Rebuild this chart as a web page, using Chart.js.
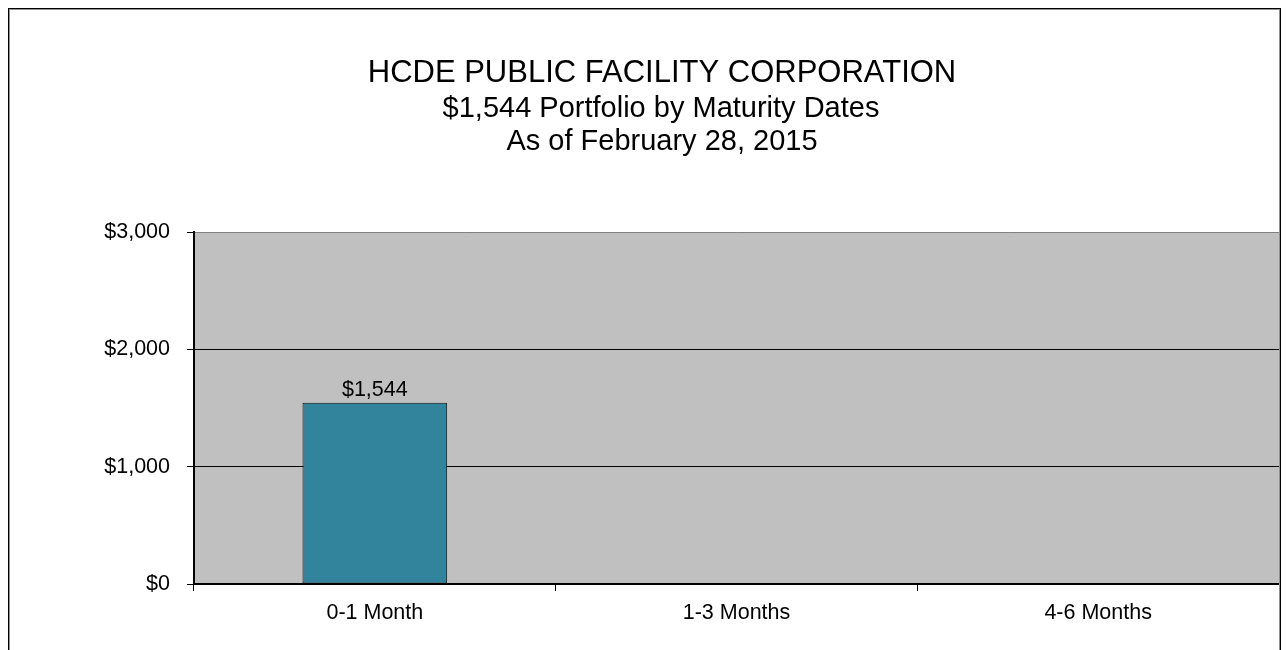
<!DOCTYPE html>
<html>
<head>
<meta charset="utf-8">
<script src="https://cdn.jsdelivr.net/npm/chart.js@4.4.1/dist/chart.umd.min.js"></script>
<style>
html,body{margin:0;padding:0;background:#fff;}
#wrap{width:1287px;height:650px;position:relative;}
</style>
</head>
<body>
<div id="wrap"><canvas id="c" width="1287" height="650"></canvas></div>
<script>
const titleLines = ["HCDE PUBLIC FACILITY CORPORATION", "$1,544 Portfolio by Maturity Dates", "As of February 28, 2015"];
const categories = ["0-1 Month", "1-3 Months", "4-6 Months"];
const values = [1544, 0, 0];
const yTicks = [0, 1000, 2000, 3000];

const FONT = '"Liberation Sans", Arial, sans-serif';
const fmt = v => '$' + v.toLocaleString('en-US');

const framePlugin = {
  id: 'frame',
  beforeDraw(chart) {
    const ctx = chart.ctx, a = chart.chartArea;
    ctx.save();
    ctx.fillStyle = '#C0C0C0';
    ctx.fillRect(a.left, a.top, a.right - a.left + 2, a.bottom - a.top);
    ctx.strokeStyle = '#808080';
    ctx.lineWidth = 1;
    ctx.beginPath();
    ctx.moveTo(a.left, a.top + 0.5);
    ctx.lineTo(a.right + 2, a.top + 0.5);
    ctx.stroke();
    ctx.restore();
  },
  afterDraw(chart) {
    const ctx = chart.ctx;
    ctx.save();
    ctx.strokeStyle = '#000';
    ctx.lineWidth = 1;
    ctx.strokeRect(8.5, 8.5, 1272, 700);
    ctx.strokeStyle = '#909090';
    ctx.strokeRect(9.5, 9.5, 1270, 700);
    // title
    ctx.fillStyle = '#000';
    ctx.textAlign = 'center';
    ctx.textBaseline = 'alphabetic';
    ctx.font = '31px ' + FONT;
    ctx.fillText(titleLines[0], 662, 82);
    ctx.font = '29px ' + FONT;
    ctx.fillText(titleLines[1], 661, 117);
    ctx.fillText(titleLines[2], 662, 150);
    // data labels
    const meta = chart.getDatasetMeta(0);
    ctx.font = '21.5px ' + FONT;
    meta.data.forEach((bar, i) => {
      const v = chart.data.datasets[0].data[i];
      if (v) ctx.fillText(fmt(v), bar.x, bar.y - 7);
    });
    ctx.restore();
  }
};

new Chart(document.getElementById('c'), {
  type: 'bar',
  data: {
    labels: categories,
    datasets: [{
      data: values,
      backgroundColor: '#31849B',
      borderColor: '#111',
      borderWidth: 1,
      borderSkipped: false,
      barPercentage: 0.4,
      categoryPercentage: 1
    }]
  },
  options: {
    responsive: false,
    animation: false,
    events: [],
    layout: { padding: { top: 232, right: 8, left: 0, bottom: 0 } },
    plugins: { legend: { display: false }, title: { display: false }, tooltip: { enabled: false } },
    scales: {
      x: {
        afterFit(s) { s.height = 66; },
        grid: { display: true, drawOnChartArea: false, tickLength: 7, color: '#000', lineWidth: 1 },
        border: { display: true, color: '#000', width: 2 },
        ticks: { color: '#000', font: { family: FONT, size: 21.5 }, padding: 9, maxRotation: 0 }
      },
      y: {
        min: 0, max: 3000,
        afterFit(s) { s.width = 194; },
        afterBuildTicks(s) { s.ticks = yTicks.map(v => ({ value: v })); },
        grid: {
          tickLength: 7,
          tickColor: '#000',
          color: c => (c.tick && (c.tick.value === 0 || c.tick.value === 3000)) ? 'rgba(0,0,0,0)' : '#000',
          lineWidth: 1
        },
        border: { display: true, color: '#000', width: 2 },
        ticks: { color: '#000', font: { family: FONT, size: 21.5 }, padding: 17, callback: v => fmt(v) }
      }
    }
  },
  plugins: [framePlugin]
});
</script>
</body>
</html>
